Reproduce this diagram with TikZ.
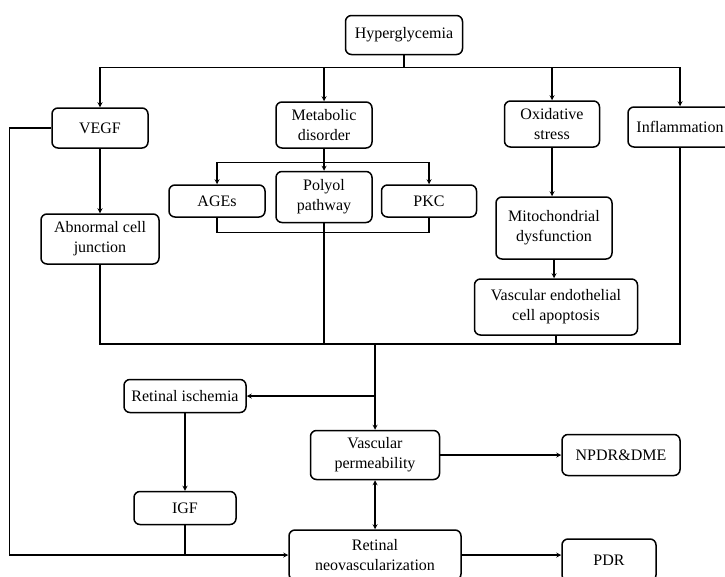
\documentclass[tikz,border=0pt]{standalone}
\usepackage{fontspec}
\setmainfont{Liberation Serif}
\begin{document}
\begin{tikzpicture}[x=1pt, y=-1pt,
    dmBox/.style={draw, rounded corners=6pt, line width=1.5pt, align=center, inner sep=2pt, font=\fontsize{16}{20}\selectfont},
    dmArrow/.style={->, >=stealth, line width=1.2pt},
    dmLine/.style={line width=1.2pt}]
    \useasboundingbox (0,0) rectangle (725,576);

    \node[dmBox, minimum width=117pt, minimum height=39pt] (hyper) at (404, 35) {Hyperglycemia};
    \node[dmBox, minimum width=96pt, minimum height=40pt] (vegf) at (100, 128) {VEGF};
    \node[dmBox, minimum width=96pt, minimum height=46pt] (metab) at (324, 125) {Metabolic\\disorder};
    \node[dmBox, minimum width=95pt, minimum height=46pt] (oxid) at (552, 124) {Oxidative\\stress};
    \node[dmBox, minimum width=104pt, minimum height=40pt] (inflam) at (680, 127) {Inflammation};
    \node[dmBox, minimum width=96pt, minimum height=32pt] (ages) at (217, 201) {AGEs};
    \node[dmBox, minimum width=96pt, minimum height=51pt] (polyol) at (324, 197) {Polyol\\pathway};
    \node[dmBox, minimum width=95pt, minimum height=32pt] (pkc) at (429, 201) {PKC};
    \node[dmBox, minimum width=118pt, minimum height=50pt] (abnormal) at (100, 239) {Abnormal cell\\junction};
    \node[dmBox, minimum width=116pt, minimum height=62pt] (mito) at (554, 228) {Mitochondrial\\dysfunction};
    \node[dmBox, minimum width=163pt, minimum height=56pt] (vasc) at (556, 307) {Vascular endothelial\\cell apoptosis};
    \node[dmBox, minimum width=122pt, minimum height=33pt] (ischemia) at (185, 396) {Retinal ischemia};
    \node[dmBox, minimum width=129pt, minimum height=49pt] (vperm) at (375, 455) {Vascular\\permeability};
    \node[dmBox, minimum width=118pt, minimum height=41pt] (npdr) at (621, 455) {NPDR\&DME};
    \node[dmBox, minimum width=102pt, minimum height=33pt] (igf) at (185, 508) {IGF};
    \node[dmBox, minimum width=172pt, minimum height=50pt] (neo) at (375, 555) {Retinal\\neovascularization};
    \node[dmBox, minimum width=94pt, minimum height=42pt] (pdr) at (609, 560) {PDR};

    % hyperglycemia to the four causes
    \draw[dmLine] (hyper.south) -- ++(0, 12) coordinate (topBus);
    \draw[dmArrow] (topBus) -| (vegf.north);
    \draw[dmArrow] (topBus) -| (metab.north);
    \draw[dmArrow] (topBus) -| (oxid.north);
    \draw[dmArrow] (topBus) -| (inflam.north);

    % metabolic disorder branch
    \draw[dmLine] (metab.south) -- ++(0, 14) coordinate (metBus);
    \draw[dmArrow] (metBus) -| (ages.north);
    \draw[dmArrow] (metBus) -- (polyol.north);
    \draw[dmArrow] (metBus) -| (pkc.north);
    \draw[dmLine] (ages.south) -- ++(0, 15) -| (pkc.south);

    \draw[dmArrow] (vegf.south) -- (abnormal.north);
    \draw[dmArrow] (oxid.south) -- (oxid.south |- mito.north);
    \draw[dmArrow] (mito.south) -- (mito.south |- vasc.north);

    % joining bus
    \coordinate (botBus) at (375, 344);
    \draw[dmLine] (abnormal.south) |- (botBus) -| (inflam.south);
    \draw[dmLine] (polyol.south) -- (polyol.south |- botBus);
    \draw[dmLine] (vasc.south) -- (vasc.south |- botBus);
    \draw[dmArrow] (botBus) -- (vperm.north);
    \draw[dmArrow] (botBus |- ischemia.east) -- (ischemia.east);

    \draw[dmArrow] (ischemia.south) -- (igf.north);
    \draw[dmLine] (igf.south) -- (igf.south |- neo.west);
    \draw[dmArrow] (vegf.west) -- ++(-42, 0) |- (neo.west);
    \draw[dmArrow, <->] (vperm.south) -- (neo.north);
    \draw[dmArrow] (vperm.east) -- (npdr.west);
    \draw[dmArrow] (neo.east) -- (neo.east -| pdr.west);
\end{tikzpicture}
\end{document}
